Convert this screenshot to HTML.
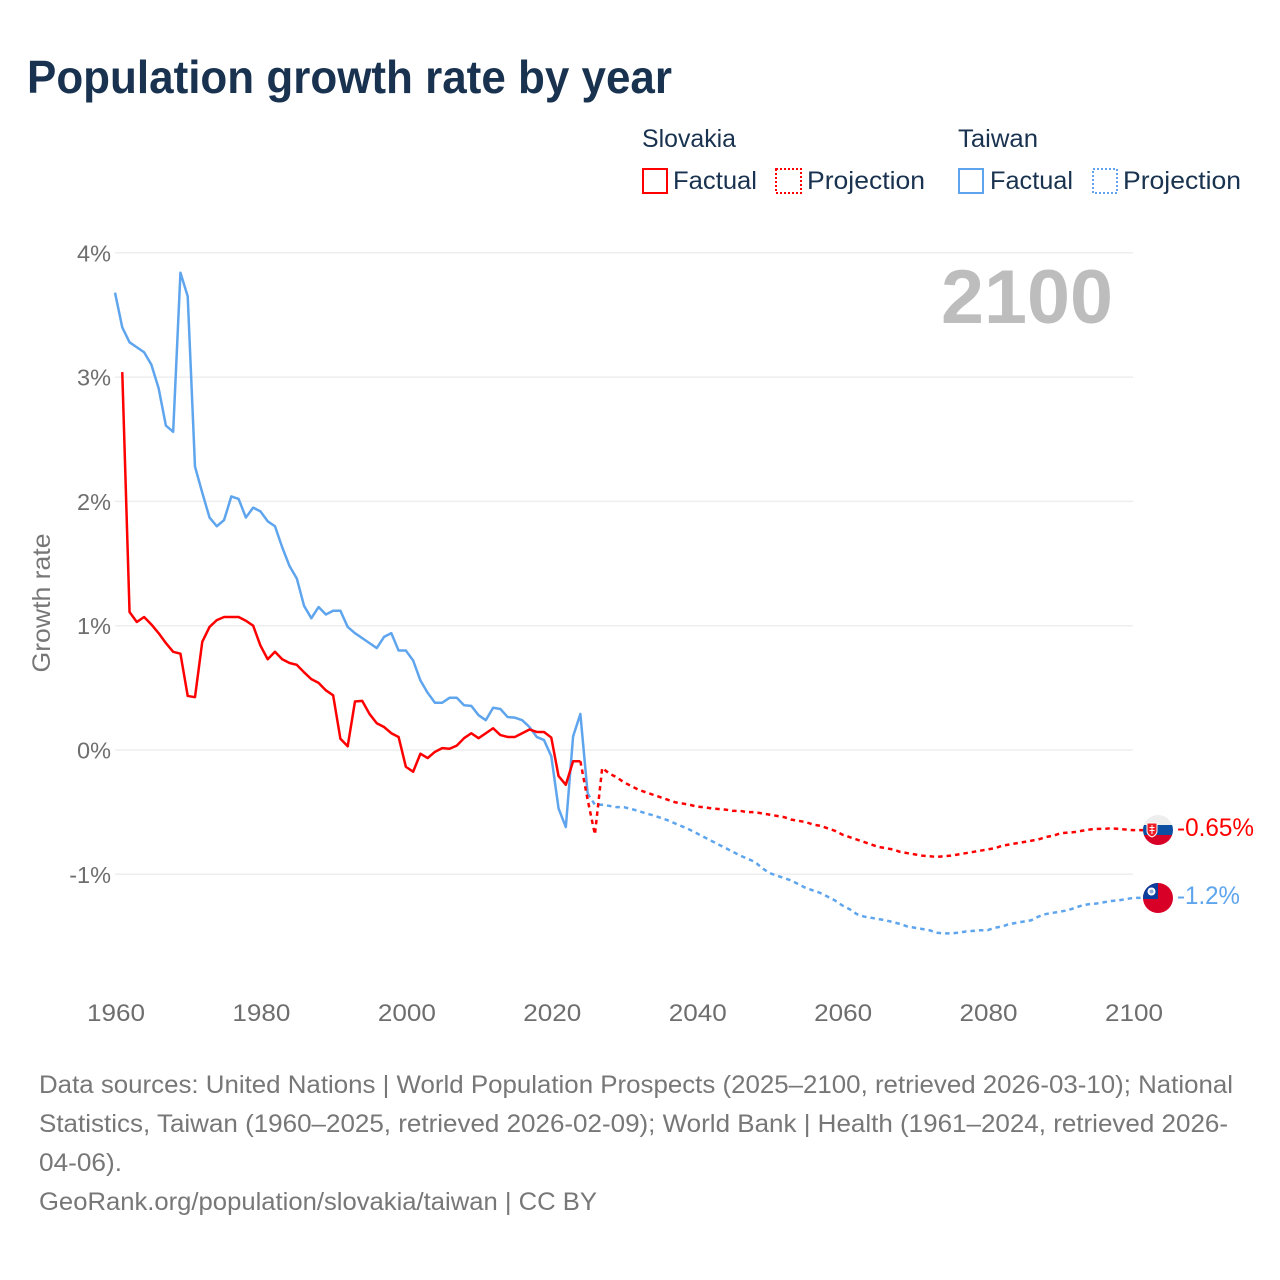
<!DOCTYPE html>
<html lang="en">
<head>
<meta charset="utf-8">
<title>Population growth rate by year</title>
<style>
html,body{margin:0;padding:0;background:#fff;width:1280px;height:1280px;overflow:hidden}
svg{display:block;font-family:"Liberation Sans",sans-serif}
</style>
</head>
<body>
<svg id="chart" width="1280" height="1280" viewBox="0 0 1280 1280" xmlns="http://www.w3.org/2000/svg">
  <defs>
    <clipPath id="clip-sk"><circle cx="1158" cy="830" r="15"/></clipPath>
    <clipPath id="clip-tw"><circle cx="1158" cy="898" r="15"/></clipPath>
  </defs>
  <text x="27" y="93" font-size="46" font-weight="700" fill="#18324f" textLength="645" lengthAdjust="spacingAndGlyphs">Population growth rate by year</text>

  <g font-size="25" fill="#18324f">
    <text x="642" y="147" textLength="94" lengthAdjust="spacingAndGlyphs">Slovakia</text>
    <text x="958" y="147" textLength="80" lengthAdjust="spacingAndGlyphs">Taiwan</text>
    <rect x="643" y="169" width="24" height="24" fill="none" stroke="#ff0000" stroke-width="2"/>
    <text x="673" y="189" textLength="84" lengthAdjust="spacingAndGlyphs">Factual</text>
    <rect x="776" y="169" width="25" height="24" fill="none" stroke="#ff0000" stroke-width="2" stroke-dasharray="2 2"/>
    <text x="807" y="189" textLength="118" lengthAdjust="spacingAndGlyphs">Projection</text>
    <rect x="959" y="169" width="24" height="24" fill="none" stroke="#5ea5ee" stroke-width="2"/>
    <text x="990" y="189" textLength="83" lengthAdjust="spacingAndGlyphs">Factual</text>
    <rect x="1093" y="169" width="24" height="24" fill="none" stroke="#5ea5ee" stroke-width="2" stroke-dasharray="2 2"/>
    <text x="1123" y="189" textLength="118" lengthAdjust="spacingAndGlyphs">Projection</text>
  </g>

  <g id="grid"></g>
  <g id="yticks"></g>
  <g id="xticks"></g>
  <text transform="translate(50,603) rotate(-90)" text-anchor="middle" font-size="25" fill="#777" textLength="139" lengthAdjust="spacingAndGlyphs">Growth rate</text>
  <text x="1113" y="323" text-anchor="end" font-size="76" font-weight="700" fill="#bdbdbd" textLength="172" lengthAdjust="spacingAndGlyphs">2100</text>

  <g id="series"></g>

  <g clip-path="url(#clip-sk)">
    <rect x="1143" y="815" width="30" height="10" fill="#eeeeee"/>
    <rect x="1143" y="825" width="30" height="10" fill="#0b4ea2"/>
    <rect x="1143" y="835" width="30" height="10" fill="#d80027"/>
    <path d="M1147 823h10v8q0 4-5 6q-5-2-5-6z" fill="#ee1c25" stroke="#fff" stroke-width="1"/>
    <path d="M1151.500 825h1v2h2v1h-2v2h2v1h-2v3h-1v-3h-2v-1h2v-2h-2v-1h2z" fill="#fff"/>
  </g>
  <g clip-path="url(#clip-tw)">
    <rect x="1143" y="883" width="30" height="30" fill="#d80027"/>
    <rect x="1143" y="883" width="15" height="16" fill="#0b3d9c"/>
    <circle cx="1151.500" cy="891.500" r="4" fill="#fff"/>
    <circle cx="1151.500" cy="891.500" r="2" fill="#8fa8dc"/>
  </g>
  <text x="1177" y="836" font-size="25" fill="#ff0000" textLength="77" lengthAdjust="spacingAndGlyphs">-0.65%</text>
  <text x="1177" y="904" font-size="25" fill="#5ea5ee" textLength="63" lengthAdjust="spacingAndGlyphs">-1.2%</text>

  <g font-size="25" fill="#777">
    <text x="39" y="1093" textLength="1194" lengthAdjust="spacingAndGlyphs">Data sources: United Nations | World Population Prospects (2025–2100, retrieved 2026-03-10); National</text>
    <text x="39" y="1132" textLength="1189" lengthAdjust="spacingAndGlyphs">Statistics, Taiwan (1960–2025, retrieved 2026-02-09); World Bank | Health (1961–2024, retrieved 2026-</text>
    <text x="39" y="1171" textLength="83" lengthAdjust="spacingAndGlyphs">04-06).</text>
    <text x="39" y="1210" textLength="558" lengthAdjust="spacingAndGlyphs">GeoRank.org/population/slovakia/taiwan | CC BY</text>
  </g>
</svg>
<script>
const yTicks = [4, 3, 2, 1, 0, -1];
const xTicks = [1960, 1980, 2000, 2020, 2040, 2060, 2080, 2100];
const slovakiaStart = 1961;
const slovakiaFactual = [3.04,1.11,1.03,1.07,1.01,0.94,0.86,0.79,0.775,0.435,0.425,0.87,0.99,1.045,1.07,1.07,1.07,1.04,1.00,0.84,0.73,0.79,0.73,0.70,0.685,0.625,0.57,0.54,0.48,0.44,0.09,0.03,0.39,0.395,0.29,0.215,0.185,0.135,0.105,-0.135,-0.175,-0.03,-0.065,-0.015,0.015,0.01,0.035,0.095,0.135,0.095,0.135,0.175,0.12,0.105,0.105,0.135,0.165,0.145,0.145,0.10,-0.21,-0.28,-0.09,-0.09];
const slovakiaProjectionStart = 2024;
const slovakiaProjection = [-0.09,-0.40,-0.68,-0.145,-0.19,-0.22,-0.26,-0.29,-0.32,-0.34,-0.36,-0.38,-0.40,-0.42,-0.43,-0.44,-0.455,-0.46,-0.47,-0.475,-0.48,-0.49,-0.49,-0.50,-0.50,-0.51,-0.52,-0.53,-0.54,-0.56,-0.57,-0.58,-0.60,-0.61,-0.63,-0.65,-0.68,-0.70,-0.72,-0.74,-0.76,-0.78,-0.79,-0.80,-0.82,-0.83,-0.84,-0.85,-0.855,-0.86,-0.855,-0.85,-0.84,-0.83,-0.82,-0.81,-0.80,-0.79,-0.77,-0.76,-0.75,-0.74,-0.73,-0.72,-0.70,-0.69,-0.67,-0.665,-0.66,-0.65,-0.64,-0.635,-0.635,-0.63,-0.635,-0.64,-0.645];
const taiwanStart = 1960;
const taiwanFactual = [3.68,3.40,3.28,3.24,3.20,3.10,2.91,2.61,2.56,3.84,3.65,2.28,2.07,1.87,1.80,1.85,2.04,2.02,1.87,1.95,1.92,1.84,1.80,1.63,1.48,1.38,1.16,1.06,1.15,1.09,1.12,1.12,0.99,0.94,0.90,0.86,0.82,0.91,0.94,0.80,0.80,0.72,0.56,0.46,0.38,0.38,0.42,0.42,0.36,0.355,0.28,0.24,0.34,0.33,0.265,0.26,0.24,0.185,0.105,0.08,-0.05,-0.47,-0.62,0.11,0.29,-0.35];
const taiwanProjectionStart = 2025;
const taiwanProjection = [-0.35,-0.44,-0.44,-0.45,-0.46,-0.46,-0.475,-0.49,-0.51,-0.525,-0.545,-0.565,-0.59,-0.615,-0.64,-0.67,-0.70,-0.73,-0.76,-0.79,-0.82,-0.85,-0.875,-0.90,-0.95,-0.99,-1.01,-1.03,-1.05,-1.08,-1.11,-1.13,-1.15,-1.18,-1.21,-1.25,-1.28,-1.32,-1.34,-1.35,-1.36,-1.37,-1.385,-1.40,-1.42,-1.43,-1.44,-1.45,-1.47,-1.475,-1.475,-1.47,-1.46,-1.455,-1.45,-1.45,-1.43,-1.42,-1.40,-1.39,-1.38,-1.37,-1.34,-1.32,-1.31,-1.30,-1.29,-1.27,-1.25,-1.24,-1.235,-1.225,-1.215,-1.21,-1.20,-1.19];

const NS = 'http://www.w3.org/2000/svg';
function xScale(year) { return 115 + (year - 1960) * (1133 - 115) / 140; }
function yScale(pct) { return 750 - pct * 124.3; }
function pathFrom(start, values) {
  return values.map(function (v, i) {
    return (i ? 'L' : 'M') + xScale(start + i).toFixed(2) + ' ' + yScale(v).toFixed(2);
  }).join('');
}

const grid = document.getElementById('grid');
const yG = document.getElementById('yticks');
yTicks.forEach(function (t) {
  const line = document.createElementNS(NS, 'line');
  
  
  line.setAttribute('x1', 115);
  line.setAttribute('x2', 1133);
  line.setAttribute('y1', yScale(t));
  line.setAttribute('y2', yScale(t));
  line.setAttribute('stroke', '#eeeeee');
  line.setAttribute('stroke-width', '1.5');
  grid.appendChild(line);
  const label = document.createElementNS(NS, 'text');
  
  
  label.setAttribute('x', 111);
  label.setAttribute('y', yScale(t) + 8.500);
  label.setAttribute('text-anchor', 'end');
  label.setAttribute('font-size', '23.500');
  label.setAttribute('fill', '#6e6e6e');
  label.textContent = t + '%';
  yG.appendChild(label);
});

const xG = document.getElementById('xticks');
xTicks.forEach(function (t) {
  const label = document.createElementNS(NS, 'text');
  
  
  label.setAttribute('x', xScale(t) + 1);
  label.setAttribute('y', 1021);
  label.setAttribute('text-anchor', 'middle');
  label.setAttribute('font-size', '24');
  label.setAttribute('fill', '#6e6e6e');
  label.setAttribute('textLength', '58');
  label.setAttribute('lengthAdjust', 'spacingAndGlyphs');
  label.textContent = t;
  xG.appendChild(label);
});

const seriesG = document.getElementById('series');
function addSeries(name, d, color, dashed) {
  const p = document.createElementNS(NS, 'path');
  
  
  p.setAttribute('d', d);
  p.setAttribute('fill', 'none');
  p.setAttribute('stroke', color);
  p.setAttribute('stroke-width', '2.500');
  p.setAttribute('stroke-linejoin', 'round');
  if (dashed) p.setAttribute('stroke-dasharray', '4.500 4');
  seriesG.appendChild(p);
}
addSeries('taiwan-projection-line', pathFrom(taiwanProjectionStart, taiwanProjection) + 'H1143', '#5ea5ee', true);
addSeries('taiwan-factual-line', pathFrom(taiwanStart, taiwanFactual), '#5ea5ee', false);
addSeries('slovakia-projection-line', pathFrom(slovakiaProjectionStart, slovakiaProjection) + 'H1143', '#ff0000', true);
addSeries('slovakia-factual-line', pathFrom(slovakiaStart, slovakiaFactual), '#ff0000', false);
</script>
</body>
</html>
